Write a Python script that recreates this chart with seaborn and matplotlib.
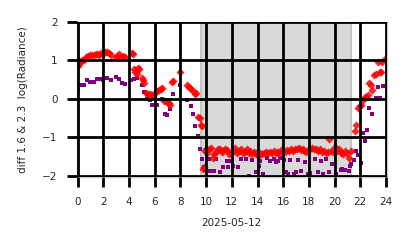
import matplotlib
matplotlib.use("Agg")
import matplotlib.pyplot as plt
import seaborn as sns
import pandas as pd

# ---- data (hours of day, log-radiance difference) ----
red_hours = [0.0, 0.05, 0.1, 0.2, 0.35, 0.5, 0.65, 0.8, 0.95, 1.1, 1.25, 1.4, 1.55, 1.7, 1.85, 2.0,
             2.15, 2.3, 2.45, 2.6, 2.95, 3.1, 3.25, 3.4, 3.55, 3.7, 4.2, 4.3, 4.4, 4.5, 4.6, 4.7, 4.8,
             5.0, 5.1, 5.2, 5.35, 5.45, 5.55, 5.65, 5.75, 5.85, 6.0, 6.15, 6.3, 6.45, 6.55, 6.7, 6.85,
             7.0, 7.1, 7.2, 7.35, 7.45, 8.0, 8.5, 8.65, 8.8, 8.95, 9.1, 9.2, 9.4, 9.5, 9.6, 9.7, 9.75,
             9.85, 9.9, 10.0, 10.1, 10.2, 10.35, 10.5, 10.6, 10.75, 10.9, 11.05, 11.2, 11.35, 11.5,
             11.65, 11.8, 11.95, 12.1, 12.25, 12.4, 12.55, 12.7, 12.85, 13.0, 13.15, 13.3, 13.45,
             13.6, 13.75, 13.9, 14.05, 14.2, 14.35, 14.5, 14.65, 14.8, 14.95, 15.1, 15.25, 15.4,
             15.55, 15.7, 15.85, 16.0, 16.15, 16.3, 16.45, 16.6, 16.75, 16.9, 17.05, 17.2, 17.35,
             17.5, 17.65, 17.8, 17.95, 18.1, 18.25, 18.4, 18.55, 18.7, 18.85, 19.0, 19.15, 19.3,
             19.45, 19.6, 19.75, 19.9, 20.05, 20.2, 20.35, 20.5, 20.65, 20.8, 20.95, 21.1, 21.25,
             21.55, 21.7, 21.8, 21.95, 22.07, 22.2, 22.35, 22.46, 22.6, 22.7, 22.8, 22.9, 23.1, 23.2,
             23.36, 23.5, 23.6, 23.7, 23.9]
red_values = [0.85, 1.0, 0.92, 0.95, 1.0, 1.0, 1.08, 1.12, 1.15, 1.15, 1.13, 1.17, 1.18, 1.15, 1.2, 1.18,
              1.22, 1.22, 1.2, 1.15, 1.1, 1.12, 1.17, 1.1, 1.12, 1.1, 1.2, 1.18, 0.78, 0.7, 0.65, 0.8, 0.78,
              0.55, 0.5, 0.4, 0.15, 0.12, 0.1, 0.12, 0.1, 0.08, 0.15, 0.2, 0.22, 0.25, 0.28, -0.05, -0.05,
              -0.1, -0.12, -0.15, 0.45, 0.47, 0.7, 0.35, 0.3, 0.25, 0.2, 0.13, 0.15, -0.48, -0.5, -0.68, -0.7, -1.83,
              -1.78, -1.35, -1.3, -1.4, -1.32, -1.28, -1.54, -1.45, -1.38, -1.3, -1.32, -1.38, -1.35, -1.3,
              -1.33, -1.45, -1.4, -1.35, -1.28, -1.4, -1.35, -1.3, -1.42, -1.38, -1.3, -1.4, -1.35,
              -1.45, -1.38, -1.42, -1.48, -1.4, -1.45, -1.4, -1.38, -1.42, -1.38, -1.4, -1.35, -1.42,
              -1.38, -1.4, -1.33, -1.35, -1.38, -1.33, -1.35, -1.3, -1.36, -1.3, -1.32, -1.28, -1.33,
              -1.3, -1.35, -1.38, -1.33, -1.3, -1.28, -1.32, -1.3, -1.35, -1.32, -1.38, -1.35, -1.4,
              -1.38, -1.05, -1.35, -1.38, -1.25, -1.35, -1.3, -1.4, -1.45, -1.35, -1.4, -1.55, -1.35,
              -0.85, -0.68, -0.24, -0.2, -0.16, -0.03, 0.05, 0.06, 0.1, 0.4, 0.35, 0.23, 0.62, 0.65,
              0.97, 0.71, 0.71, 0.97, 1.03]

purple_hours = [0.05, 0.2, 0.5, 0.7, 1.0, 1.3, 1.5, 1.8, 2.0, 2.3, 2.6, 3.0, 3.2, 3.45, 3.65, 4.15, 4.4,
                4.6, 5.0, 5.2, 5.4, 5.6, 5.8, 6.2, 6.55, 6.8, 6.95, 7.2, 7.4, 8.0, 8.5, 8.8, 9.0, 9.15,
                9.4, 9.5, 9.65, 9.8, 9.9, 10.2, 10.3, 10.55, 10.65, 10.8, 11.1, 11.3, 11.6, 11.7, 11.95,
                12.1, 12.5, 12.75, 13.1, 13.35, 13.6, 13.9, 14.1, 14.2, 14.45, 14.7, 15.0, 15.3, 15.45,
                15.6, 15.75, 16.05, 16.2, 16.35, 16.5, 16.8, 17.0, 17.15, 17.4, 17.7, 17.9, 18.1, 18.5,
                18.7, 18.9, 19.1, 19.3, 19.55, 19.8, 20.1, 20.5, 20.6, 20.8, 21.1, 21.2, 21.3, 21.5,
                21.7, 21.85, 22.07, 22.2, 22.4, 22.5, 22.7, 22.9, 23.2, 23.36, 23.5, 23.8]
purple_values = [0.22, 0.35, 0.35, 0.48, 0.43, 0.45, 0.52, 0.52, 0.5, 0.55, 0.5, 0.57, 0.52, 0.42, 0.39,
                 0.48, 0.52, 0.55, 0.37, 0.19, 0.0, -0.04, -0.16, -0.17, 0.0, -0.39, -0.43, -0.26, 0.13,
                 0.37, -0.04, -0.2, -0.39, -0.7, -0.96, -1.3, -1.58, -1.78, -1.85, -1.57, -1.88, -1.88,
                 -1.88, -1.58, -1.9, -1.79, -1.62, -1.79, -1.62, -1.75, -1.79, -1.58, -1.58, -2.0, -1.6,
                 -1.92, -1.75, -1.62, -1.95, -1.54, -1.62, -1.58, -1.66, -1.62, -1.55, -1.6, -1.9, -1.95,
                 -1.6, -1.95, -1.91, -1.6, -1.89, -1.66, -1.95, -1.93, -1.58, -1.9, -1.62, -1.97, -1.57,
                 -1.9, -1.69, -1.95, -1.85, -1.84, -1.85, -1.89, -1.75, -1.71, -1.6, -1.37, -1.47, -1.67,
                 -0.9, -1.09, -0.82, -0.24, -0.4, 0.02, 0.3, 0.02, 0.33]

night_start, night_end = 9.6, 21.3
x_ticks = [0, 2, 4, 6, 8, 10, 12, 14, 16, 18, 20, 22, 24]
y_ticks = [-2, -1, 0, 1, 2]
date_label = "2025-05-12"
y_label = "diff 1.6 & 2.3  log(Radiance)"

red_df = pd.DataFrame({"hour": red_hours, "value": red_values})
purple_df = pd.DataFrame({"hour": purple_hours, "value": purple_values})

sns.set_style("white")
plt.rcParams['font.family'] = ['DejaVu Sans']

fig = plt.figure(figsize=(4.14, 2.48), dpi=100)
ax = fig.add_axes([0.186, 0.286, 0.748, 0.625])

ax.axvspan(night_start, night_end, facecolor='#d9d9d9', edgecolor='#c4c4c4', linewidth=1.5, zorder=0)

sns.scatterplot(data=purple_df, x="hour", y="value", marker='s', s=10, color='#800080',
                linewidth=0, ax=ax, zorder=1)
sns.scatterplot(data=red_df, x="hour", y="value", marker='D', s=17, color='#ff0000', alpha=0.85,
                linewidth=0, ax=ax, zorder=1)

ax.set_xlim(-0.05, 24.05)
ax.set_ylim(-2.04, 2.0)
ax.set_xticks(x_ticks)
ax.set_yticks(y_ticks)
ax.set_xticklabels([str(t) for t in x_ticks])
ax.set_yticklabels(["\u22122", "\u22121", "0", "1", "2"])

ax.set_axisbelow(False)
ax.grid(True, color='black', linewidth=2.0, zorder=2.5)
ax.tick_params(axis='both', which='major', length=7, width=2.0, color='black',
               labelsize=7.5, pad=7, bottom=True, left=True)
for sp in ax.spines.values():
    sp.set_color('#cccccc')
    sp.set_linewidth(1.0)

ax.set_xlabel(date_label, fontsize=7.5, labelpad=8)
ax.set_ylabel(y_label, fontsize=7.5, labelpad=10)

fig.savefig("out.png", dpi=100)
